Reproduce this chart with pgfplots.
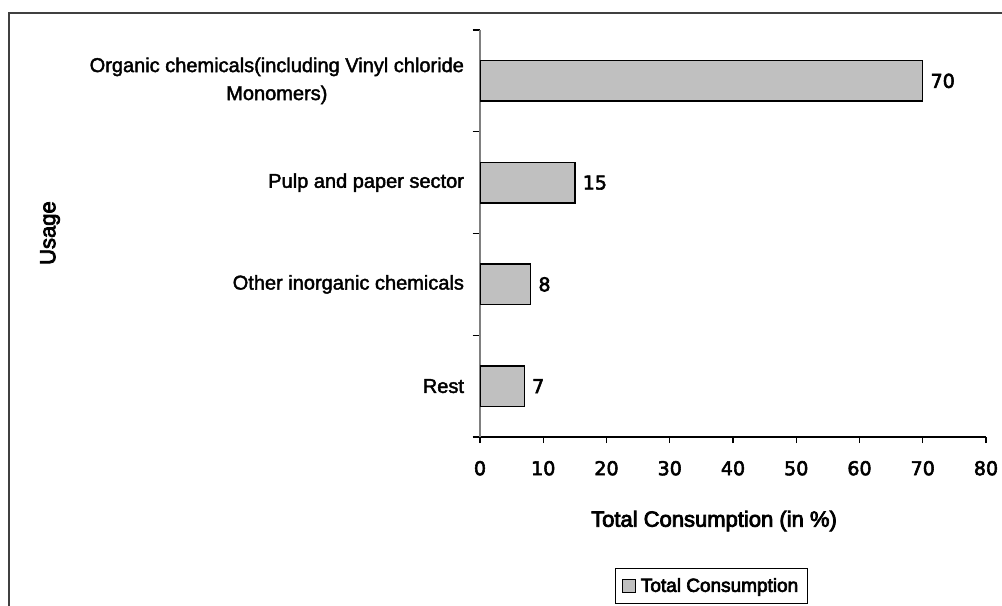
\documentclass[border=0pt]{standalone}
\usepackage{fontspec}
\setmainfont[RawFeature={embolden=2}]{Liberation Sans}
\newfontfamily\titlefont[RawFeature={embolden=3.5}]{Liberation Sans}
\newfontfamily\numfont[RawFeature={embolden=3}]{DejaVu Sans}
\usepackage{pgfplots}
\pgfplotsset{compat=1.18}
\definecolor{barfill}{HTML}{C0C0C0}
\definecolor{framecol}{HTML}{404040}
\begin{document}
\begin{tikzpicture}
\useasboundingbox (0pt,0pt) rectangle (751.5pt,-454.5pt);
\draw[line width=1.6pt, framecol] (6.75pt,-470pt) -- (6.75pt,-9.75pt) -- (770pt,-9.75pt);
\begin{axis}[
  at={(360pt,-327.75pt)}, anchor=south west,
  scale only axis, width=379.5pt, height=305.25pt,
  xbar, bar width=0.4,
  xmin=0, xmax=80, ymin=-0.5, ymax=3.5,
  axis x line*=bottom, axis y line*=left,
  x axis line style={black, line width=0.8pt},
  y axis line style={gray, line width=1pt},
  tick align=outside,
  major tick length=4.5pt,
  minor tick length=5.5pt,
  xtick={0,10,...,80},
  ytick={0,1,2,3},
  minor ytick={-0.5,0.5,1.5,2.5,3.5},
  yticklabels={Rest, Other inorganic chemicals, Pulp and paper sector, {Organic chemicals(including Vinyl chloride\\Monomers)}},
  major y tick style={draw=none},
  minor y tick style={draw=black, line width=0.8pt},
  major x tick style={draw=black, line width=0.8pt},
  /pgf/number format/assume math mode=true,
  xticklabel style={font=\numfont\fontsize{14.3}{17}\selectfont, yshift=-10pt},
  yticklabel style={font=\fontsize{15}{21}\selectfont, align=center, xshift=-4pt},
  xlabel={Total Consumption (in \%)},
  xlabel style={font=\titlefont\fontsize{16.5}{20}\selectfont, at={(axis description cs:0.4625,-0.2064)}, anchor=center},
  ylabel={Usage},
  ylabel style={font=\titlefont\fontsize{16.5}{20}\selectfont, at={(axis description cs:-0.8498,0.501)}, anchor=center, rotate=0},
  nodes near coords,
  every node near coord/.append style={font=\numfont\fontsize{14.3}{17}\selectfont, black, xshift=2pt},
  legend style={at={(axis description cs:0.4575,-0.366)}, anchor=center, draw=black, line width=0.8pt,
    font=\titlefont\fontsize{14.25}{17}\selectfont, inner xsep=5pt, inner ysep=5pt, column sep=1.5pt},
  legend image code/.code={\draw[fill=barfill, draw=black, line width=0.8pt] (0pt,-4.8pt) rectangle (9.8pt,4.8pt);},
]
\addplot[fill=barfill, draw=black, line width=1.1pt] coordinates {(7,0) (8,1) (15,2) (70,3)};
\addlegendentry{Total Consumption}
\end{axis}
\end{tikzpicture}
\end{document}
